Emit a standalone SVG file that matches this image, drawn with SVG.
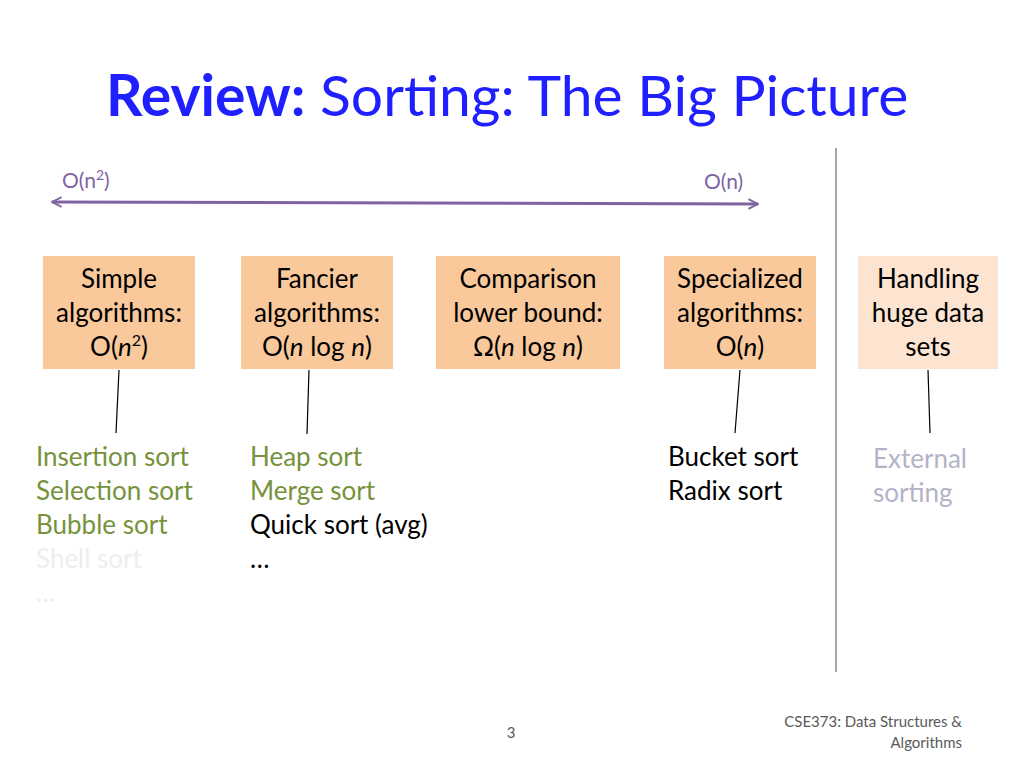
<svg xmlns="http://www.w3.org/2000/svg" width="1024" height="768" viewBox="0 0 1024 768">
<style>
text{font-family:"Lato","Open Sans","Liberation Sans",sans-serif;}
.b{font-size:26px;fill:#000;text-anchor:middle;}
.l{font-size:26px;}
.g{fill:#76923c;}
.box{fill:#f9c89b;}
.c{stroke:#000;stroke-width:1.2;}
</style>
<defs>
<marker id="ah" viewBox="0 0 10 10" refX="9" refY="5" markerWidth="12" markerHeight="12" markerUnits="userSpaceOnUse" orient="auto-start-reverse">
<path d="M1,1 L9,5 L1,9" fill="none" stroke="#8064a2" stroke-width="1.6"/>
</marker>
</defs>
<rect width="1024" height="768" fill="#fff"/>
<text x="106" y="116" style="font-size:57px;fill:#1f1fff"><tspan font-weight="bold">Review:</tspan> Sorting: The Big Picture</text>
<text x="62" y="188" style="font-size:21px;fill:#8064a2">O(n<tspan font-size="14" dy="-8">2</tspan><tspan dy="8">)</tspan></text>
<text x="704" y="189" style="font-size:21px;fill:#8064a2">O(n)</text>
<line x1="836" y1="148" x2="836" y2="672" stroke="#a6a6a6" stroke-width="2"/>
<g id="connectors">
<line x1="52" y1="202" x2="758" y2="204" stroke="#8064a2" stroke-width="3" marker-start="url(#ah)" marker-end="url(#ah)"/>
<line class="c" x1="119" y1="370" x2="116" y2="433"/>
<line class="c" x1="309" y1="370" x2="307" y2="434"/>
<line class="c" x1="740" y1="370" x2="735" y2="433"/>
<line class="c" x1="928" y1="370" x2="930" y2="433"/>
</g>
<g id="n1"><rect class="box" x="43" y="256" width="152" height="113"/>
<text class="b" x="119" y="288">Simple</text><text class="b" x="119" y="322">algorithms:</text><text class="b" x="119" y="356">O(<tspan font-style="italic">n</tspan><tspan font-size="16" dy="-10">2</tspan><tspan dy="10">)</tspan></text></g>
<g id="n2"><rect class="box" x="241" y="256" width="152" height="113"/>
<text class="b" x="317" y="288">Fancier</text><text class="b" x="317" y="322">algorithms:</text><text class="b" x="317" y="356">O(<tspan font-style="italic">n</tspan> log <tspan font-style="italic">n</tspan>)</text></g>
<g id="n3"><rect class="box" x="436" y="256" width="184" height="113"/>
<text class="b" x="528" y="288">Comparison</text><text class="b" x="528" y="322">lower bound:</text><text class="b" x="528" y="356">Ω(<tspan font-style="italic">n</tspan> log <tspan font-style="italic">n</tspan>)</text></g>
<g id="n4"><rect class="box" x="664" y="256" width="152" height="113"/>
<text class="b" x="740" y="288">Specialized</text><text class="b" x="740" y="322">algorithms:</text><text class="b" x="740" y="356">O(<tspan font-style="italic">n</tspan>)</text></g>
<g id="n5"><rect x="858" y="256" width="140" height="113" fill="#fce4d0"/>
<text class="b" x="928" y="288">Handling</text><text class="b" x="928" y="322">huge data</text><text class="b" x="928" y="356">sets</text></g>
<g id="l1" class="l">
<text x="36" y="466" class="g">Insertion sort</text>
<text x="36" y="500" class="g">Selection sort</text>
<text x="36" y="534" class="g">Bubble sort</text>
<text x="36" y="568" fill="#eeeeea">Shell sort</text>
<text x="36" y="602" fill="#eeeeea">…</text>
</g>
<g id="l2" class="l">
<text x="250" y="466" class="g">Heap sort</text>
<text x="250" y="500" class="g">Merge sort</text>
<text x="250" y="534">Quick sort (avg)</text>
<text x="250" y="568">…</text>
</g>
<g id="l3" class="l">
<text x="668" y="466">Bucket sort</text>
<text x="668" y="500">Radix sort</text>
</g>
<g id="l4" class="l" fill="#b3b3c8">
<text x="873" y="468">External</text>
<text x="873" y="502">sorting</text>
</g>
<text x="511" y="738" style="font-size:15px;fill:#595959" text-anchor="middle">3</text>
<text x="962" y="727" style="font-size:15px;fill:#595959" text-anchor="end">CSE373: Data Structures &amp;</text>
<text x="962" y="748" style="font-size:15px;fill:#595959" text-anchor="end">Algorithms</text>
</svg>
